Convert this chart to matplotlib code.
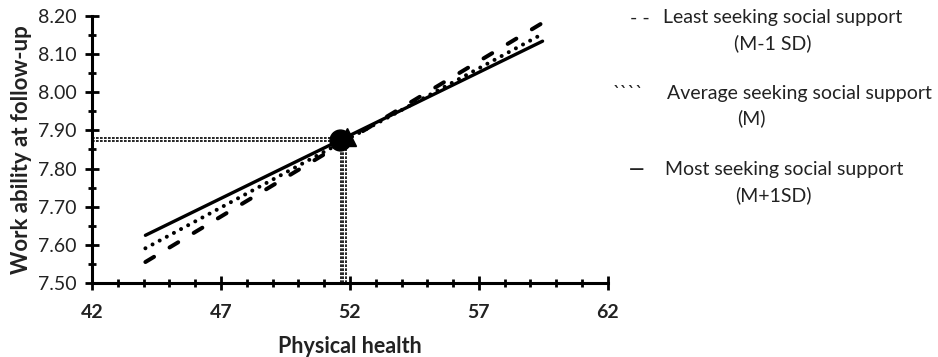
import matplotlib.pyplot as plt
from matplotlib.ticker import MultipleLocator, FormatStrFormatter

plt.rcParams['font.family'] = ['Lato', 'DejaVu Sans']

# simple slopes: physical health (M-1SD .. M+1SD) vs predicted work ability
x_ends = [44.07, 59.47]
least_y = [7.555, 8.182]    # M-1 SD seeking social support
average_y = [7.591, 8.153]  # M
most_y = [7.625, 8.134]     # M+1SD

x_ticks = [42, 47, 52, 57, 62]

# crossing point and guide lines
cross_x = 51.61
cross_y = 7.875
tri_x = 51.88
tri_y = 7.882
guide_h_y = [7.879, 7.872]
guide_v_x = [51.64, 51.74, 51.85]

legend_labels = ['Least seeking social support', 'Average seeking social support',
                 'Most seeking social support']
legend_sub = ['(M-1 SD)', '(M)', '(M+1SD)']
legend_keys = ['- -', '````', '\u2014']

fig = plt.figure(figsize=(9.38, 3.57), dpi=100)
ax = fig.add_axes([0.0981, 0.2073, 0.5499, 0.7479])

# guide lines to the axes
for gy in guide_h_y:
    ax.plot([42, cross_x], [gy, gy], color='black', lw=1.2, dashes=(1.6, 0.8), zorder=2)
for gx in guide_v_x:
    ax.plot([gx, gx], [7.5, cross_y], color='black', lw=1.2, dashes=(1.6, 0.8), zorder=2)

ax.plot(x_ends, most_y, color='black', lw=2.4, solid_capstyle='round', zorder=3)
ax.plot(x_ends, average_y, color='black', lw=2.9, dashes=(0.01, 2.0),
        dash_capstyle='round', zorder=3)
ax.plot(x_ends, least_y, color='black', lw=2.9, dashes=(2.5, 4.5),
        dash_capstyle='round', zorder=3)

ax.plot([cross_x], [cross_y], marker='o', ms=15, color='black', zorder=4)
ax.plot([tri_x], [tri_y], marker='^', ms=13, color='black', zorder=4)

ax.set_xlim(42, 62)
ax.set_ylim(7.5, 8.2)
ax.set_xticks(x_ticks)
ax.xaxis.set_minor_locator(MultipleLocator(1))
ax.yaxis.set_major_locator(MultipleLocator(0.1))
ax.yaxis.set_minor_locator(MultipleLocator(0.05))
ax.yaxis.set_major_formatter(FormatStrFormatter('%.2f'))

for s in ['top', 'right']:
    ax.spines[s].set_visible(False)
for s in ['left', 'bottom']:
    ax.spines[s].set_linewidth(2.2)

ax.tick_params(which='major', direction='inout', length=10, width=2.0, labelsize=14)
ax.tick_params(which='minor', direction='inout', length=6, width=2.0)
ax.tick_params(axis='x', which='major', pad=10)
ax.tick_params(axis='y', which='major', pad=6)
for lbl in ax.get_xticklabels():
    lbl.set_fontweight('bold')
for lbl in ax.get_xticklabels() + ax.get_yticklabels():
    lbl.set_color('#222222')

ax.set_xlabel('Physical health', fontsize=15.5, fontweight='bold', labelpad=11, color='#222222')
ax.set_ylabel('Work ability at follow-up', fontsize=16, fontweight='bold', labelpad=4, color='#222222')

# legend drawn as text in figure pixels
W, H = 938, 357
key_x = [640, 628, 637]
row_y = [18, 93, 170]
text_x = [663, 667, 665]
sub_x = [773, 751, 773]
for i in range(3):
    fig.text(key_x[i] / W, 1 - row_y[i] / H, legend_keys[i], ha='center', va='center',
             fontsize=14, color='#222222', fontweight='bold' if i == 2 else 'normal')
    fig.text(text_x[i] / W, 1 - row_y[i] / H, legend_labels[i], ha='left', va='center',
             fontsize=14, color='#222222')
    fig.text(sub_x[i] / W, 1 - (row_y[i] + 25) / H, legend_sub[i], ha='center', va='center',
             fontsize=14, color='#222222')

fig.savefig('out.png', dpi=100)
